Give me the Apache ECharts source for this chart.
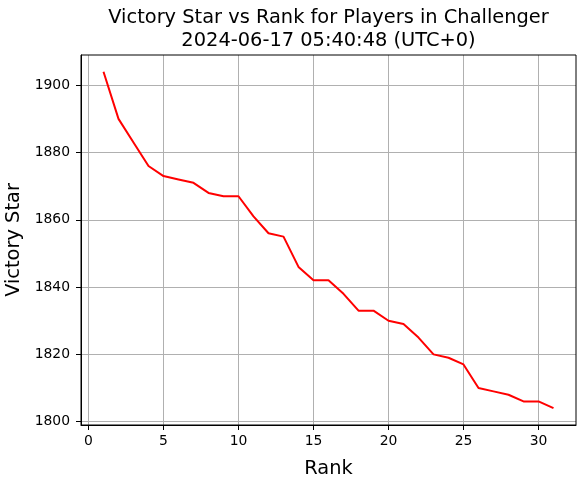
<!DOCTYPE html>
<html>
<head>
<meta charset="utf-8">
<title>Victory Star vs Rank</title>
<script src="https://cdn.jsdelivr.net/npm/echarts@6/dist/echarts.min.js"></script>
<style>
  html, body { margin: 0; padding: 0; background: #fff; }
  #chart { width: 585px; height: 483px; }
</style>
</head>
<body>
<div id="chart"></div>
<script>
// data
var ranks = [1, 2, 3, 4, 5, 6, 7, 8, 9, 10, 11, 12, 13, 14, 15, 16,
  17, 18, 19, 20, 21, 22, 23, 24, 25, 26, 27, 28, 29, 30, 31];
var stars = [1904, 1890, 1883, 1876, 1873, 1872, 1871, 1868, 1867, 1867, 1861,
  1856, 1855, 1846, 1842, 1842, 1838, 1833, 1833, 1830, 1829, 1825, 1820,
  1819, 1817, 1810, 1809, 1808, 1806, 1806, 1804];
var xTicks = [0, 5, 10, 15, 20, 25, 30];
var yTicks = [1800, 1820, 1840, 1860, 1880, 1900];
var titleLines = ["Victory Star vs Rank for Players in Challenger", "2024-06-17 05:40:48 (UTC+0)"];

var font = "DejaVu Sans";
var myChart = echarts.init(document.getElementById("chart"));

var points = ranks.map(function (r, i) {
  return [r, stars[i]];
});

// plain numbers, no thousands separator
function plain(v) {
  return String(v);
}

var option = {
  animation: false,
  backgroundColor: "#fff",
  textStyle: { fontFamily: font },
  graphic: [
    {
      type: "text",
      x: 328.5,
      y: 7,
      z: 10,
      style: {
        text: titleLines.join("\n"),
        fontFamily: font,
        fontSize: 19.4,
        lineHeight: 22.7,
        fill: "#000",
        align: "center",
        verticalAlign: "top"
      }
    }
  ],
  grid: {
    left: 81,
    right: 9,
    top: 55,
    bottom: 58,
    containLabel: false,
    outerBoundsMode: "none",
    show: true,
    borderColor: "#000",
    borderWidth: 1,
    backgroundColor: "transparent",
    z: 3
  },
  xAxis: {
    type: "value",
    min: -0.5,
    max: 32.5,
    name: "Rank",
    nameLocation: "middle",
    nameGap: 34,
    nameTextStyle: { fontFamily: font, fontSize: 19.4, color: "#000" },
    axisLine: { show: true, onZero: false, lineStyle: { color: "#000", width: 1 } },
    axisTick: {
      show: true,
      length: 5,
      customValues: xTicks,
      lineStyle: { color: "#000", width: 1 }
    },
    axisLabel: {
      customValues: xTicks,
      formatter: plain,
      margin: 9,
      fontFamily: font,
      fontSize: 13.9,
      color: "#000"
    },
    splitLine: { show: true, lineStyle: { color: "#b0b0b0", width: 1 } }
  },
  yAxis: {
    type: "value",
    min: 1799,
    max: 1909,
    name: "Victory Star",
    nameLocation: "middle",
    nameGap: 53,
    nameTextStyle: { fontFamily: font, fontSize: 19.4, color: "#000" },
    axisLine: { show: true, onZero: false, lineStyle: { color: "#000", width: 1 } },
    axisTick: {
      show: true,
      length: 5,
      customValues: yTicks,
      lineStyle: { color: "#000", width: 1 }
    },
    axisLabel: {
      customValues: yTicks,
      formatter: plain,
      margin: 11,
      fontFamily: font,
      fontSize: 13.9,
      color: "#000"
    },
    splitLine: { show: true, lineStyle: { color: "#b0b0b0", width: 1 } }
  },
  series: [
    {
      type: "line",
      data: points,
      symbol: "none",
      lineStyle: { color: "#ff0000", width: 2 },
      itemStyle: { color: "#ff0000" }
    }
  ]
};

myChart.setOption(option);
</script>
</body>
</html>
